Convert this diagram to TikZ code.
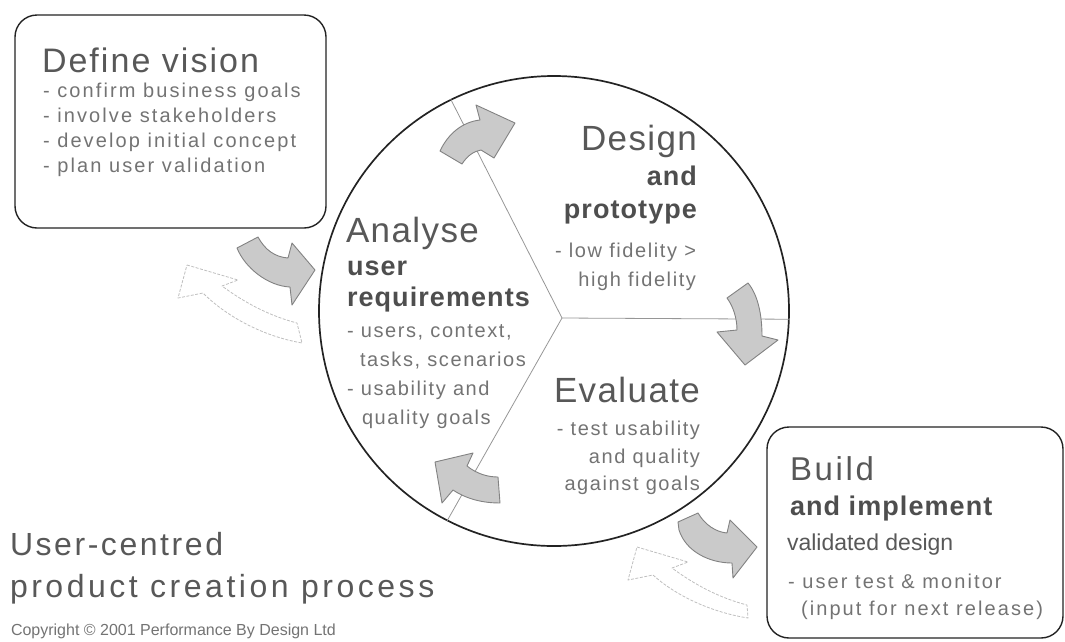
\documentclass[tikz,border=0pt]{standalone}
\usepackage{fontspec}
\setmainfont{Liberation Sans}
\definecolor{titlecol}{RGB}{88,88,88}
\definecolor{bodycol}{RGB}{115,115,115}
\definecolor{subcol}{RGB}{78,78,78}
\definecolor{arrowfill}{RGB}{202,202,202}
\definecolor{arrowline}{RGB}{130,130,130}
\definecolor{ghostline}{RGB}{190,190,190}
\definecolor{spokecol}{RGB}{150,150,150}
\definecolor{framecol}{RGB}{35,35,35}
\tikzset{
  txt/.style={inner sep=0pt, outer sep=0pt},
  lft/.style={anchor=base west},
  rgt/.style={anchor=base east},
  ttl/.style={txt, text=titlecol, font=\fontsize{35}{35}\selectfont\addfontfeature{LetterSpace=4}},
  sub/.style={txt, text=subcol, font=\fontsize{27}{27}\selectfont\bfseries\addfontfeature{LetterSpace=4}},
  bul/.style={txt, text=bodycol, font=\fontsize{20}{20}\selectfont\addfontfeature{LetterSpace=8}},
  widebul/.style={txt, text=bodycol, font=\fontsize{20}{20}\selectfont\addfontfeature{LetterSpace=10.5}},
  bigttl/.style={txt, text=titlecol, font=\fontsize{32}{32}\selectfont\addfontfeature{LetterSpace=9}},
  phasebox/.style={draw=framecol, line width=1.4pt, rounded corners=22pt, inner sep=0pt},
  solidarrow/.style={fill=arrowfill, draw=arrowline, line width=0.9pt, line join=round},
  ghostarrow/.style={draw=ghostline, line width=0.8pt, dash pattern=on 3pt off 1.5pt, line join=round},
  spoke/.style={draw=spokecol, line width=0.8pt}
}
\begin{document}
\begin{tikzpicture}[x=1pt,y=-1pt]
\useasboundingbox (0,0) rectangle (1065,641);

% main cycle
\node[circle, draw=framecol, line width=1.7pt, minimum size=470pt, inner sep=0pt] (cyc) at (554,311) {};
\coordinate (hub) at (562,318);
\draw[spoke] (hub) -- (cyc.116);
\draw[spoke] (hub) -- (cyc.-2);
\draw[spoke] (hub) -- (cyc.243);

% boxes
\node[phasebox, minimum width=311pt, minimum height=213pt] (defbox) at (170.5,121.5) {};
\node[phasebox, minimum width=296pt, minimum height=211pt] (buildbox) at (915,532.5) {};

% solid arrows
\draw[solidarrow] (440,151) -- (462,164) .. controls (467,156) and (474,151) .. (481,150) -- (494,158) -- (515,123) -- (476,105) -- (480,120) .. controls (462,122) and (448,134) .. (440,151) -- cycle;
\draw[solidarrow] (727,298) -- (748,283) .. controls (758,295) and (762,315) .. (762,336) -- (778,340) -- (745,365) -- (717,332) -- (737,330) .. controls (737,318) and (733,306) .. (727,298) -- cycle;
\draw[solidarrow] (435,462) -- (473,453) -- (467,466) .. controls (477,474) and (488,477) .. (498,477) -- (500,503) .. controls (485,503) and (468,500) .. (453,490) -- (442,503) -- cycle;
\draw[solidarrow] (258,237) .. controls (265,250) and (275,257) .. (288,258) -- (292,243) -- (315,270) -- (292,305) -- (290,287) .. controls (268,286) and (245,268) .. (237,248) -- cycle;
\draw[solidarrow] (678,522) -- (698,513) .. controls (705,525) and (716,532) .. (727,533) -- (730,520) -- (757,547) -- (733,578) -- (732,563) .. controls (710,563) and (686,552) .. (679,530) -- cycle;

% ghost arrows
\draw[ghostarrow] (637,547) -- (688,562) -- (672,568) .. controls (695,585) and (720,598) .. (747,605) -- (748,618) .. controls (710,612) and (675,595) .. (653,575) -- (628,580) -- cycle;
\draw[ghostarrow] (187,265) -- (238,280) -- (222,286) .. controls (245,303) and (270,316) .. (297,323) -- (302,343) .. controls (262,336) and (226,316) .. (203,293) -- (178,298) -- cycle;

% Define vision
\node[ttl, lft, font=\fontsize{34}{34}\selectfont\addfontfeature{LetterSpace=6}] (dvt) at (42,72) {Define vision};
\node[widebul, lft] (dv1) at (43,97) {- confirm business goals};
\node[widebul, lft] (dv2) at (43,122) {- involve stakeholders};
\node[widebul, lft] (dv3) at (43,147) {- develop initial concept};
\node[widebul, lft] (dv4) at (43,172) {- plan user validation};

% Analyse
\node[ttl, lft] (ant) at (346,242) {Analyse};
\node[sub, lft] (an1) at (347,275) {user};
\node[sub, lft] (an2) at (347,306) {requirements};
\node[bul, lft] (an3) at (347,337) {- users, context,};
\node[bul, lft] (an4) at (360,366) {tasks, scenarios};
\node[bul, lft] (an5) at (347,395) {- usability and};
\node[bul, lft] (an6) at (362,424) {quality goals};

% Design
\node[ttl, rgt] (dst) at (697,150) {Design};
\node[sub, rgt] (ds1) at (697,185) {and};
\node[sub, rgt] (ds2) at (697,218) {prototype};
\node[bul, rgt] (ds3) at (696,257) {- low fidelity >};
\node[bul, rgt] (ds4) at (696,286) {high fidelity};

% Evaluate
\node[ttl, rgt] (evt) at (700,402) {Evaluate};
\node[bul, rgt] (ev1) at (700,435) {- test usability};
\node[bul, rgt] (ev2) at (700,463) {and quality};
\node[bul, rgt] (ev3) at (700,490) {against goals};

% Build
\node[ttl, lft, font=\fontsize{33}{33}\selectfont\addfontfeature{LetterSpace=8}] (bdt) at (790,480) {Build};
\node[sub, lft] (bd1) at (790,515) {and implement};
\node[txt, lft, text=titlecol, font=\fontsize{23}{23}\selectfont] (bd2) at (787,550) {validated design};
\node[widebul, lft] (bd3) at (788,588) {- user test \& monitor};
\node[widebul, lft] (bd4) at (801,615) {(input for next release)};

% caption
\node[bigttl, lft, font=\fontsize{32}{32}\selectfont\addfontfeature{LetterSpace=8}] (cap1) at (10,555) {User-centred};
\node[bigttl, lft, font=\fontsize{32}{32}\selectfont\addfontfeature{LetterSpace=11}] (cap2) at (10,597) {product creation process};
\node[txt, lft, text=bodycol, font=\fontsize{16}{16}\selectfont] (copy) at (11,635) {Copyright \textcopyright\ 2001 Performance By Design Ltd};
\end{tikzpicture}
\end{document}
